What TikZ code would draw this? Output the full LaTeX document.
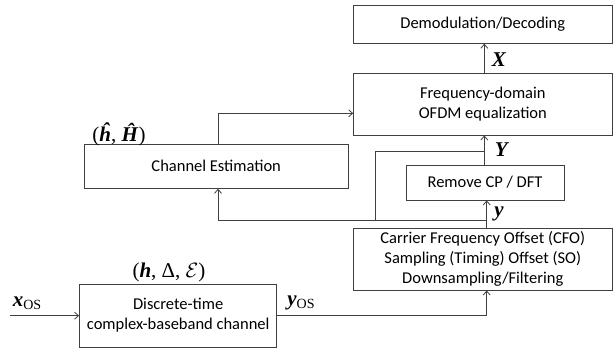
\documentclass[tikz,border=0pt]{standalone}
\usepackage{fontspec}
\setmainfont{Carlito}
\newfontfamily\tms{Liberation Serif}
\usetikzlibrary{arrows.meta}
\tikzset{
  blk/.style={draw=black!75, line width=0.8pt, align=center, inner sep=0pt,
    font=\fontsize{16.5}{20}\selectfont},
  arr/.style={draw=black!75, line width=0.8pt, -{Straight Barb[length=4pt,width=7pt]}},
  wire/.style={draw=black!75, line width=0.8pt},
  sym/.style={font=\tms\fontsize{21}{24}\selectfont, inner sep=0pt},
}
\newcommand{\subOS}{\raisebox{-0.3ex}{\fontsize{14}{14}\selectfont OS}}
\begin{document}
\begin{tikzpicture}[x=1pt,y=-1pt]
  \useasboundingbox (0,0) rectangle (614,350);

  % processing blocks
  \node[blk, minimum width=258.4pt, minimum height=38pt] (demod) at (482.8,24.3) {Demodulation/Decoding};
  \node[blk, minimum width=258.4pt, minimum height=61.7pt] (freq) at (482.8,104.2) {Frequency-domain\\OFDM equalization};
  \node[blk, minimum width=264.5pt, minimum height=44.3pt] (ce) at (216.2,166.2) {Channel Estimation};
  \node[blk, minimum width=158pt, minimum height=35pt] (rcp) at (485,182.5) {Remove CP / DFT};
  \node[blk, minimum width=258.4pt, minimum height=61.7pt] (cfo) at (482.8,259.2) {Carrier Frequency Offset (CFO)\\Sampling (Timing) Offset (SO)\\Downsampling/Filtering};
  \node[blk, minimum width=197.3pt, minimum height=63pt] (dtc) at (178.2,315.5) {Discrete-time\\complex-baseband channel};

  % helper points
  \coordinate (xa) at (484.3,0);
  \coordinate (xb) at (486.7,0);
  \coordinate (xc) at (218,0);
  \coordinate (xd) at (375,0);
  \coordinate (yj) at (486.7,220);
  \coordinate (tapY) at (484.3,151.7);
  \coordinate (tapL) at (375,220);
  \coordinate (hin) at (0,113.3);
  \coordinate (xin) at (10,315.7);

  % signal flow
  \draw[arr] (freq.north -| xa) -- (demod.south -| xa);
  \draw[arr] (rcp.north -| xa) -- (freq.south -| xa);
  \draw[arr] (cfo.north -| xb) -- (rcp.south -| xb);
  \draw[arr] (yj) -| (ce.south -| xc);
  \draw[wire] (tapL) |- (tapY);
  \draw[arr] (ce.north -| xc) |- (freq.west |- hin);
  \draw[arr] (xin) -- (dtc.west |- xin);
  \draw[arr] (dtc.east |- xin) -| (cfo.south -| xb);

  % signal labels
  \node[sym] (lX) at (499,60) {\textbf{\textit{X}}};
  \node[sym] (lY) at (502,150) {\textbf{\textit{Y}}};
  \node[sym] (ly) at (499,214) {\textbf{\textit{y}}};
  \node[sym] (lhH) at (119,134) {(\textbf{\textit{ĥ}}, \textbf{\textit{Ĥ}})};
  \node[sym] (lch) at (169,272) {(\textbf{\textit{h}}, Δ, $\mathcal{E}$)};
  \node[sym] (lxos) at (27,303) {\textbf{\textit{x}}\subOS};
  \node[sym] (lyos) at (301,303) {\textbf{\textit{y}}\subOS};
\end{tikzpicture}
\end{document}
